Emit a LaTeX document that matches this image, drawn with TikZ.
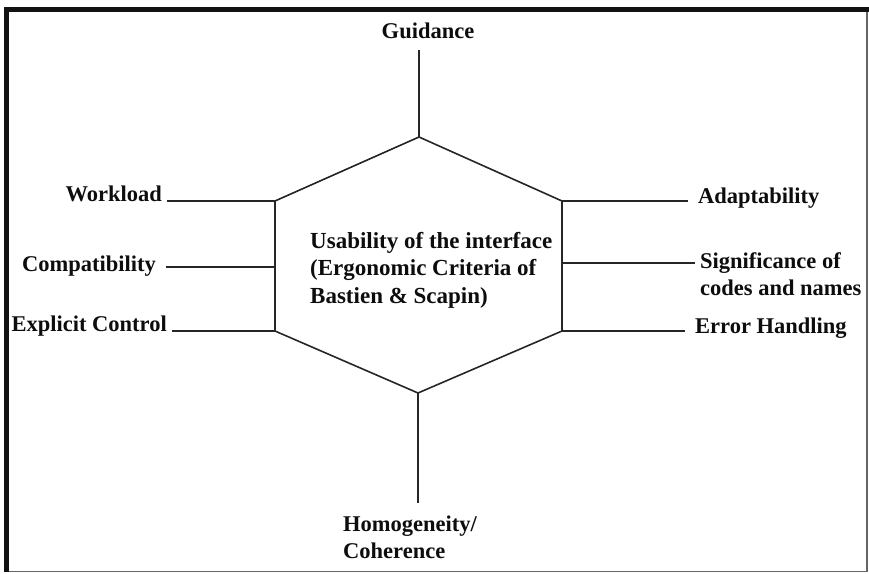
\documentclass[tikz,border=0pt]{standalone}
\usepackage{fontspec}
\setmainfont{Liberation Serif}
\begin{document}
\begin{tikzpicture}[x=1pt,y=-1pt,
  lbl/.style={font=\bfseries\fontsize{22.5}{27}\selectfont, text=black!95,
    inner ysep=0pt, inner xsep=5pt},
  wide/.style={inner xsep=10pt},
  block/.style={font=\bfseries\fontsize{22.5}{27}\selectfont, text=black!95,
    inner sep=0pt, align=left},
  edge/.style={draw=black!85, line width=1.4pt},
  hexline/.style={draw=black!85, line width=1.6pt, line join=miter}]
\useasboundingbox (0,0) rectangle (869,573);

% outer frame: heavy top and left, light right and bottom
\draw[black!60, line width=1.5pt] (867,9) -- (867,571.5) -- (6.5,571.5);
\draw[black!93, line width=5pt] (6.5,571.5) -- (6.5,9) -- (869,9);

% hexagon corners and side junctions
\coordinate (hT)  at (419,137);
\coordinate (hUR) at (562,201);
\coordinate (hMR) at (562,263);
\coordinate (hLR) at (562,331);
\coordinate (hB)  at (418,393);
\coordinate (hLL) at (275,331);
\coordinate (hML) at (275,267);
\coordinate (hUL) at (275,201);
\draw[hexline] (hT) -- (hUR) -- (hLR) -- (hB) -- (hLL) -- (hUL) -- cycle;

% centre text
\node[block, anchor=north west, font=\bfseries\fontsize{23}{27.5}\selectfont]
  (ctr) at (310,232)
  {Usability of the interface\\(Ergonomic Criteria of\\Bastien \& Scapin)};

% top and bottom criteria
\node[lbl, anchor=base] (gd) at (428,38) {Guidance};
\coordinate (gdEnd) at (419,50);
\draw[edge] (hT) -- (gdEnd);

\node[block, anchor=north west] (hm) at (343,516) {Homogeneity/\\Coherence};
\coordinate (hmEnd) at (418,503);
\draw[edge] (hB) -- (hmEnd);

% left criteria
\node[lbl, anchor=base east] (wl) at (167,201) {Workload};
\node[lbl, wide, anchor=base east] (cp) at (166,271) {Compatibility};
\node[lbl, anchor=base east] (ec) at (172,331) {Explicit Control};
\draw[edge] (hUL) -- (hUL -| wl.east);
\draw[edge] (hML) -- (hML -| cp.east);
\draw[edge] (hLL) -- (hLL -| ec.east);

% right criteria
\node[lbl, wide, anchor=base west] (ad) at (688,203) {Adaptability};
\node[block, anchor=north west, inner xsep=5pt] (sg) at (695,252)
  {Significance of\\codes and names};
\node[lbl, wide, anchor=base west] (eh) at (685,333) {Error Handling};
\draw[edge] (hUR) -- (hUR -| ad.west);
\draw[edge] (hMR) -- (hMR -| sg.west);
\draw[edge] (hLR) -- (hLR -| eh.west);
\end{tikzpicture}
\end{document}
